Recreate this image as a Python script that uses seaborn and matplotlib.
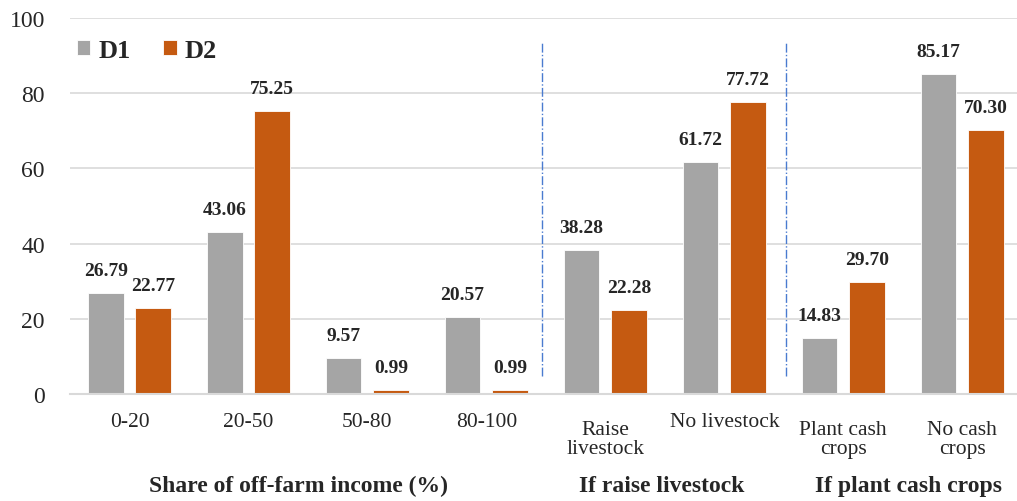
import pandas as pd
import seaborn as sns
import matplotlib.pyplot as plt
import matplotlib.transforms as mtransforms

# data
categories = ["0-20", "20-50", "50-80", "80-100",
              "Raise\nlivestock", "No livestock", "Plant cash\ncrops", "No cash\ncrops"]
d1 = [26.79, 43.06, 9.57, 20.57, 38.28, 61.72, 14.83, 85.17]
d2 = [22.77, 75.25, 0.99, 0.99, 22.28, 77.72, 29.70, 70.30]
series = ["D1", "D2"]
groups = ["Share of off-farm income (%)", "If raise livestock", "If plant cash crops"]
group_pos = [1.42, 4.47, 6.55]
dividers = [3.47, 5.52]

df = pd.DataFrame({
    "cat": categories * 2,
    "val": d1 + d2,
    "series": ["D1"] * len(d1) + ["D2"] * len(d2),
})

sns.set_theme(style="white")
plt.rcParams["font.family"] = ["Liberation Serif", "DejaVu Serif"]

fig = plt.figure(figsize=(10.17, 5.02), dpi=100)
ax = fig.add_axes([70 / 1017, 1 - 395 / 502, 947 / 1017, 376 / 502])

sns.barplot(data=df, x="cat", y="val", hue="series", order=categories, hue_order=series,
            palette=["#A5A5A5", "#C55A11"], saturation=1, width=0.8, gap=0.25,
            edgecolor="white", linewidth=0.6, ax=ax)

# value labels
for cont in ax.containers:
    for bar in cont:
        h = bar.get_height()
        ax.annotate(f"{h:.2f}", (bar.get_x() + bar.get_width() / 2, h),
                    xytext=(0, 10), textcoords="offset points",
                    ha="center", va="bottom", fontsize=14, fontweight="bold")

ax.set_ylim(0, 100)
ax.set_xlim(-0.5, 7.46)
ax.set_yticks(range(0, 101, 20))
ax.yaxis.grid(True, color="#D9D9D9", linewidth=1.2)
ax.set_axisbelow(True)
for s in ["top", "right", "left"]:
    ax.spines[s].set_visible(False)
ax.spines["bottom"].set_color("#D9D9D9")
ax.spines["bottom"].set_linewidth(1.5)
ax.tick_params(axis="y", length=0, pad=18, labelsize=17)
ax.tick_params(axis="x", length=0, pad=13, labelsize=15.5)
for t in ax.get_xticklabels():
    t.set_linespacing(0.95)
for tick, lab in zip(ax.xaxis.get_major_ticks(), categories):
    if "\n" in lab:
        tick.set_pad(19)
ax.set_xlabel("")
ax.set_ylabel("")

# dividers between groups
for x in dividers:
    ax.plot([x, x], [4.8, 93.6], color="#4A7BD0", linestyle="-.", linewidth=1)

# group labels
trans = mtransforms.blended_transform_factory(ax.transData, fig.transFigure)
for g, x in zip(groups, group_pos):
    ax.text(x, 0.03, g, transform=trans, ha="center", va="center",
            fontsize=17, fontweight="bold")

sns.move_legend(ax, "center left", bbox_to_anchor=(0.0074, 0.9136), ncol=2,
                frameon=False, title=None, prop={"size": 19, "weight": "bold"},
                handlelength=0.5, handleheight=0.5, handletextpad=0.3,
                columnspacing=1.25, borderpad=0, borderaxespad=0)

fig.savefig("out.png", dpi=100)
